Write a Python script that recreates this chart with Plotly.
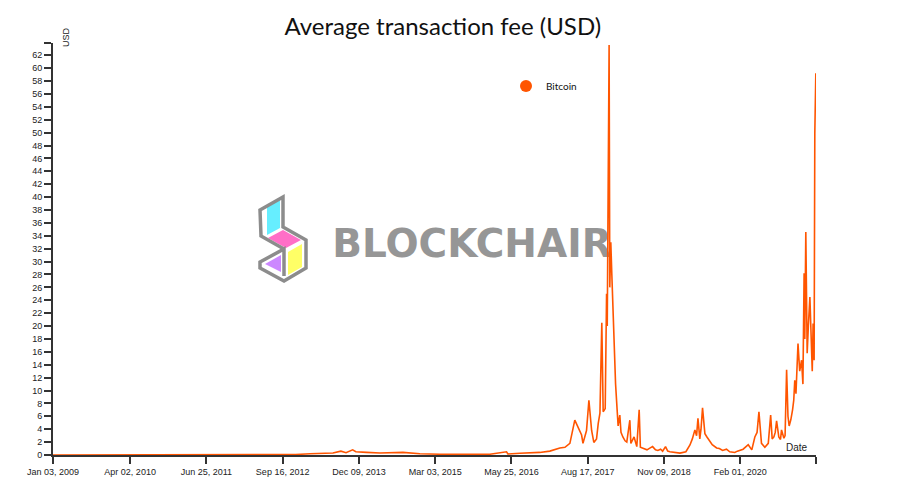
import plotly.graph_objects as go

# ---- data ----
dates = [
    "2009-01-03", "2009-09-01", "2010-06-01", "2011-01-01", "2011-06-15", "2011-07-01",
    "2012-01-01", "2012-06-01", "2012-12-01", "2013-02-24", "2013-07-09", "2013-08-25",
    "2013-09-24", "2013-11-02", "2013-11-21", "2014-01-23", "2014-04-12", "2014-08-25",
    "2014-12-03", "2015-03-31", "2015-09-23", "2016-01-19", "2016-04-26", "2016-05-04",
    "2016-07-14", "2016-11-08", "2017-01-06", "2017-03-06", "2017-04-05", "2017-05-04",
    "2017-06-02", "2017-06-20", "2017-07-12", "2017-07-20", "2017-08-10", "2017-08-24",
    "2017-09-09", "2017-09-22", "2017-10-08", "2017-10-18", "2017-10-28", "2017-11-08",
    "2017-11-16", "2017-11-28", "2017-12-06", "2017-12-10", "2017-12-14", "2017-12-18",
    "2017-12-21", "2017-12-25", "2017-12-31", "2018-01-06", "2018-01-12", "2018-01-20",
    "2018-01-28", "2018-02-05", "2018-02-12", "2018-02-22", "2018-03-01", "2018-03-12",
    "2018-03-25", "2018-04-04", "2018-04-22", "2018-04-28", "2018-05-17", "2018-06-02",
    "2018-06-16", "2018-06-23", "2018-07-19", "2018-08-01", "2018-08-20", "2018-09-03",
    "2018-09-20", "2018-10-04", "2018-10-20", "2018-11-01", "2018-11-18", "2018-12-01",
    "2018-12-14", "2019-01-10", "2019-02-11", "2019-03-18", "2019-04-11", "2019-04-25",
    "2019-05-10", "2019-05-20", "2019-05-28", "2019-06-08", "2019-06-15", "2019-06-24",
    "2019-07-08", "2019-07-20", "2019-08-06", "2019-08-20", "2019-09-15", "2019-10-01",
    "2019-10-20", "2019-11-12", "2019-12-01", "2019-12-31", "2020-01-15", "2020-02-18",
    "2020-03-19", "2020-04-09", "2020-04-27", "2020-05-10", "2020-05-21", "2020-05-30",
    "2020-06-05", "2020-06-25", "2020-07-15", "2020-07-29", "2020-08-07", "2020-08-17",
    "2020-08-25", "2020-09-02", "2020-09-15", "2020-09-25", "2020-10-01", "2020-10-15",
    "2020-10-22", "2020-10-31", "2020-11-08", "2020-11-15", "2020-11-25", "2020-12-05",
    "2020-12-12", "2020-12-18", "2020-12-25", "2021-01-06", "2021-01-16", "2021-01-27",
    "2021-02-04", "2021-02-11", "2021-02-15", "2021-02-21", "2021-03-01", "2021-03-08",
    "2021-03-17", "2021-03-27", "2021-03-31", "2021-04-05", "2021-04-11", "2021-04-15",
    "2021-04-21",
]
fees_usd = [
    0.0, 0.0, 0.0, 0.01, 0.05, 0.02,
    0.03, 0.05, 0.07, 0.2, 0.3, 0.6,
    0.35, 0.8, 0.5, 0.4, 0.3, 0.4,
    0.2, 0.12, 0.1, 0.12, 0.5, 0.15,
    0.26, 0.4, 0.6, 1.1, 1.2, 1.8,
    5.4, 4.4, 3.1, 1.8, 3.8, 8.5,
    3.8, 1.95, 2.5, 4.9, 6.5, 20.5,
    6.7, 7.2, 25.0, 20.0, 32.0, 47.8,
    63.6, 26.0, 33.0, 28.0, 23.0, 14.0,
    11.0, 7.5, 4.5, 6.2, 3.5, 2.8,
    2.2, 2.0, 5.4, 1.8, 2.8, 1.3,
    7.0, 1.2, 1.0, 0.8, 1.1, 1.3,
    0.8, 0.7, 0.9, 0.6, 1.3, 0.6,
    0.5, 0.4, 0.3, 0.5, 1.55, 2.5,
    3.9, 3.0, 5.7, 2.5, 4.0, 7.3,
    3.3, 2.8, 2.2, 1.6, 1.1, 1.0,
    0.7, 0.9, 0.5, 0.4, 0.6, 0.9,
    1.6, 0.8, 2.8, 3.5, 6.7, 3.0,
    1.8, 1.2, 1.8, 6.2, 2.5, 2.8,
    3.5, 5.3, 2.8, 2.4, 3.9, 2.6,
    3.0, 13.2, 6.0, 4.5, 5.5, 7.0,
    8.5, 11.6, 9.5, 17.3, 13.0, 14.7,
    11.0, 28.2, 18.0, 34.6, 15.8, 20.0,
    24.5, 16.2, 13.0, 20.4, 14.7, 49.9,
    59.2,
]
series_name = "Bitcoin"
x_tick_dates = ["2009-01-03", "2010-04-02", "2011-06-25", "2012-09-16", "2013-12-09",
                "2015-03-03", "2016-05-25", "2017-08-17", "2018-11-09", "2020-02-01"]
x_tick_labels = ["Jan 03, 2009", "Apr 02, 2010", "Jun 25, 2011", "Sep 16, 2012", "Dec 09, 2013",
                 "Mar 03, 2015", "May 25, 2016", "Aug 17, 2017", "Nov 09, 2018", "Feb 01, 2020"]
x_end = "2021-04-22"
y_ticks = list(range(0, 63, 2))
y_top = 63.9

# ---- layout geometry (pixels) ----
W, H = 900, 491
L, R, T, B = 53, 816, 43, 455


def px(x, y):
    return (x - L) / (R - L), (B - y) / (B - T)


def path(points):
    s = ""
    for i, (x, y) in enumerate(points):
        u, v = px(x, y)
        s += ("M" if i == 0 else "L") + f"{u:.5f},{v:.5f} "
    return s + "Z"


ORANGE = "#ff5500"
AXIS = "#333333"
TICKFONT = dict(family="Liberation Sans, Arial, sans-serif", size=9, color="#222222")

fig = go.Figure()
fig.add_trace(go.Scatter(
    x=dates, y=fees_usd, mode="lines", name=series_name, showlegend=False,
    line=dict(color=ORANGE, width=1.6),
))
# legend entry (marker only)
fig.add_trace(go.Scatter(
    x=[None], y=[None], mode="markers", name=series_name,
    marker=dict(color=ORANGE, size=12, symbol="circle"),
))

shapes = []
# Blockchair watermark logo (decoration, below the data)
logo_parts = [
    ([(267, 207), (280, 200), (280, 228), (267, 235)], "#66eeff"),
    ([(268, 238), (283, 230), (301, 240), (286, 248)], "#ff6ec7"),
    ([(288, 252), (302, 244), (302, 267), (288, 275)], "#ffff66"),
    ([(265, 264), (281, 255), (281, 272)], "#cc88ff"),
]
for pts, col in logo_parts:
    shapes.append(dict(type="path", xref="paper", yref="paper", path=path(pts),
                       fillcolor=col, line=dict(width=0), layer="below"))
outline = [(260, 210), (283, 197), (283, 227), (306, 240), (306, 268), (284, 281),
           (260, 268), (260, 262), (284, 249), (284, 276), (284, 249), (261, 236)]
u_pts = "M" + " L".join(f"{px(x, y)[0]:.5f},{px(x, y)[1]:.5f}" for x, y in outline) + " Z"
shapes.append(dict(type="path", xref="paper", yref="paper", path=u_pts,
                   line=dict(color="#8c8c8c", width=3.5), layer="below"))
x0, y0 = px(331, 258)
x1, y1 = px(613, 222)
shapes.append(dict(type="rect", xref="paper", yref="paper", x0=x0, y0=y0, x1=x1, y1=y1,
                   line=dict(width=0), fillcolor="rgba(0,0,0,0)", layer="below",
                   label=dict(text="BLOCKCHAIR", textposition="middle center",
                              font=dict(family="DejaVu Sans", size=39, color="#969696",
                                        weight="bold"))))

fig.update_layout(
    width=W, height=H,
    margin=dict(l=L, r=W - R, t=T, b=H - B, pad=0),
    paper_bgcolor="white", plot_bgcolor="white",
    title=dict(text="Average transaction fee (USD)", x=0.492, xanchor="center",
               y=1 - 27 / H, yanchor="middle",
               font=dict(family="Lato", size=24, color="#111111")),
    xaxis=dict(
        type="date", range=["2009-01-03", x_end],
        tickvals=x_tick_dates + [x_end], ticktext=x_tick_labels + [""],
        showgrid=False, zeroline=False, showline=True, linecolor=AXIS, linewidth=2,
        ticks="outside", ticklen=7, tickwidth=2, tickcolor=AXIS, tickfont=TICKFONT,
    ),
    yaxis=dict(
        range=[0, y_top], tickvals=y_ticks + [y_top], ticktext=[str(v) for v in y_ticks] + [""],
        showgrid=False, zeroline=False, showline=True, linecolor=AXIS, linewidth=2,
        ticks="outside", ticklen=7, tickwidth=2, tickcolor=AXIS, tickfont=TICKFONT,
    ),
    legend=dict(x=px(506, 0)[0], y=px(0, 86)[1], xanchor="left", yanchor="middle",
                bgcolor="rgba(0,0,0,0)", font=dict(family="Lato", size=10, color="#111111")),
    shapes=shapes,
    annotations=[
        dict(text="USD", xref="paper", yref="paper", x=px(66, 0)[0], y=px(0, 37)[1],
             showarrow=False, textangle=-90, xanchor="center", yanchor="middle",
             font=dict(family="Liberation Sans, Arial, sans-serif", size=9, color="#222222")),
        dict(text="Date", xref="paper", yref="paper", x=px(810, 0)[0], y=px(0, 447)[1],
             showarrow=False, xanchor="right", yanchor="middle",
             font=dict(family="Liberation Sans, Arial, sans-serif", size=10, color="#222222")),
    ],
    showlegend=True,
)

fig.write_html("out.html", config={"displayModeBar": False},
               post_script="document.body.style.margin='0';document.body.style.overflow='hidden';")
